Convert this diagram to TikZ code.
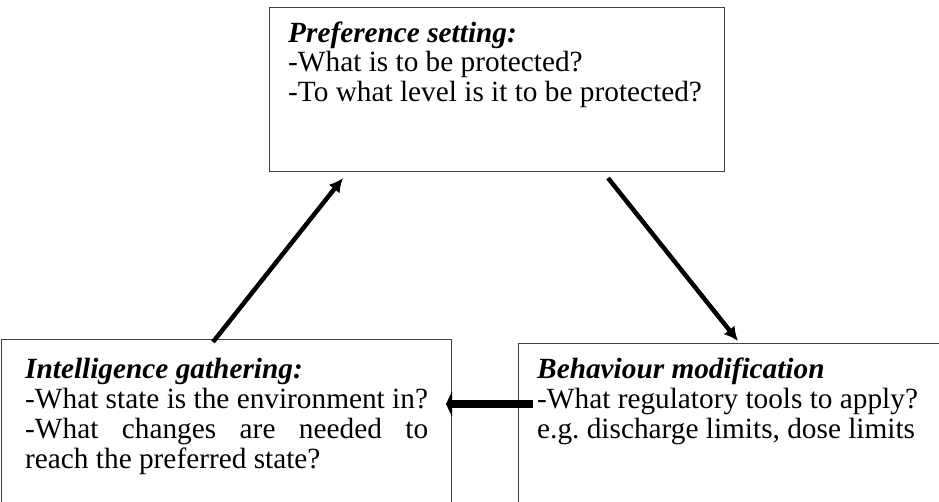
\documentclass[tikz,border=0pt]{standalone}
\usepackage{fontspec}
\setmainfont{Liberation Serif}
\usetikzlibrary{arrows.meta,positioning,calc}
\frenchspacing

\tikzset{
    frame/.style={draw=black!75, line width=1pt, inner sep=0pt, anchor=north west},
    line/.style={anchor=base west, inner sep=0pt, font=\fontsize{29.3}{30}\selectfont},
    thinarrow/.style={line width=4.5pt, -{Latex[length=14pt,width=14pt]}},
    fatarrow/.style={line width=8pt, -{Triangle[length=6pt,width=25pt]}}
}

\begin{document}
\begin{tikzpicture}[x=1pt,y=-1pt]
        \useasboundingbox (0,0) rectangle (939,501);
        \clip (0,0) rectangle (939,501);

        \node[frame, minimum width=455, minimum height=164] (pref) at (269,7) {};
        \node[frame, minimum width=450, minimum height=175] (gather) at (1,339) {};
        \node[frame, minimum width=440, minimum height=175] (behave) at (518,343) {};

        \node[line] (preftitle) at ($(pref.north west)+(19,35)$) {\textbf{\textit{Preference setting:}}};
        \node[line] (prefa) at ($(preftitle.base west)+(0,29.5)$) {-What is to be protected?};
        \node[line] (prefb) at ($(prefa.base west)+(0,29.5)$) {-To what level is it to be protected?};

        \node[line] (gathertitle) at ($(gather.north west)+(24,39)$) {\textbf{\textit{Intelligence gathering:}}};
        \node[line] (gathera) at ($(gathertitle.base west)+(0,30)$) {-What state is the environment in?};
        \node[line] (gatherb) at ($(gathera.base west)+(0,30)$) {\makebox[403pt][s]{-What changes are needed to}};
        \node[line] (gatherc) at ($(gatherb.base west)+(0,30)$) {reach the preferred state?};

        \node[line] (behavetitle) at ($(behave.north west)+(19,35)$) {\textbf{\textit{Behaviour modification}}};
        \node[line] (behavea) at ($(behavetitle.base west)+(0,30)$) {-What regulatory tools to apply?};
        \node[line] (behaveb) at ($(behavea.base west)+(0,30)$) {e.g. discharge limits, dose limits};

        \draw[thinarrow] ($(gather.north west)+(212,3)$) -- ($(pref.south west)+(74,6)$);
        \draw[thinarrow] ($(pref.south west)+(339,6)$) -- ($(behave.north west)+(220,-2)$);
        \draw[fatarrow] ($(behave.north west)+(15,61)$) -- ($(gather.north east)+(-6,65)$);
\end{tikzpicture}
\end{document}
